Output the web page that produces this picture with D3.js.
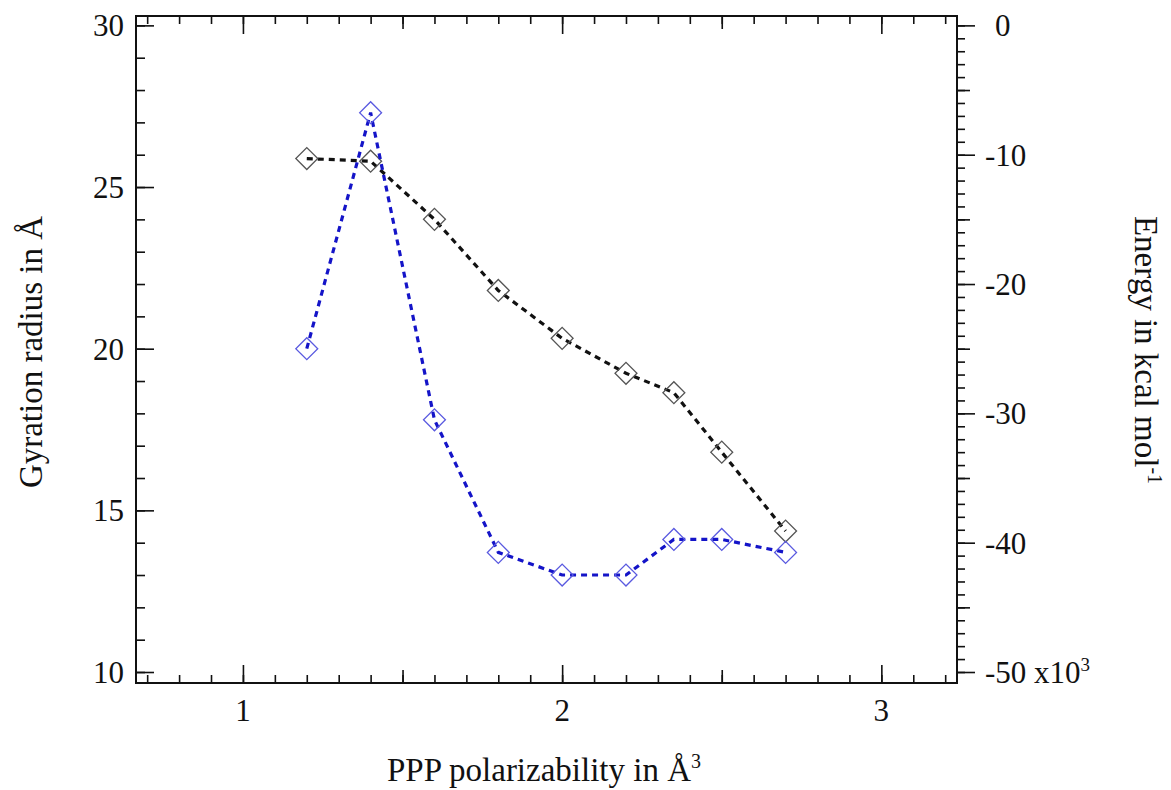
<!DOCTYPE html>
<html>
<head>
<meta charset="utf-8">
<script src="https://cdn.jsdelivr.net/npm/d3@7"></script>
<style>
  body{margin:0;background:#fff;}
  svg{display:block;}
  svg text{font-family:'Liberation Serif','Times New Roman',Times,'DejaVu Serif',serif;fill:#111;}
  .tick line{stroke:#111;stroke-width:1.6;}
</style>
</head>
<body>
<svg id="chart" width="1171" height="790"></svg>
<script>
// data ----------------------------------
var polarizability=[1.2,1.4,1.6,1.8,2.0,2.2,2.35,2.5,2.7];
var gyration=[20.0,27.3,17.8,13.7,13.0,13.0,14.1,14.1,13.7];      // left axis, blue
var energy=[-10.3,-10.5,-15.0,-20.5,-24.2,-26.9,-28.4,-33.0,-39.1]; // right axis (x10^3), black

var xTicks=[1,2,3];
var leftTicks=[10,15,20,25,30];
var rightTicks=[0,-10,-20,-30,-40,-50];

// frame
var fx0=136,fx1=957,fy0=16,fy1=683;
var serif="'Liberation Serif','Times New Roman',Times,serif";

var svg=d3.select('#chart');

var x=d3.scaleLinear().domain([0.665,3.237]).range([fx0,fx1]);
var yL=d3.scaleLinear().domain([9.66,30.29]).range([fy1,fy0]);
var yR=d3.scaleLinear().domain([-50.85,0.725]).range([fy1,fy0]);

// ticks ---------------------------------
function tickAxis(axis,vals,size,tx,ty){
  svg.append('g')
    .attr('transform','translate('+tx+','+ty+')')
    .call(axis.tickValues(vals).tickSize(size).tickFormat(''))
    .call(g=>g.select('.domain').remove());
}
var xMinor=d3.range(7,33).map(d=>d/10);
var xMid=[1.5,2.5];
tickAxis(d3.axisTop(x),xMinor,8,0,fy1);
tickAxis(d3.axisTop(x),xMid,13,0,fy1);
tickAxis(d3.axisTop(x),xTicks,18,0,fy1);
tickAxis(d3.axisBottom(x),xMinor,8,0,fy0);
tickAxis(d3.axisBottom(x),xMid,13,0,fy0);
tickAxis(d3.axisBottom(x),xTicks,18,0,fy0);

tickAxis(d3.axisRight(yL),d3.range(10,31),9,fx0,0);
tickAxis(d3.axisRight(yL),leftTicks,18,fx0,0);

tickAxis(d3.axisRight(yR),d3.range(-50,1),8,fx1,0);
tickAxis(d3.axisRight(yR),d3.range(-45,1,10),13,fx1,0);
tickAxis(d3.axisRight(yR),rightTicks,18,fx1,0);

svg.append('rect')
  .attr('x',fx0).attr('y',fy0)
  .attr('width',fx1-fx0).attr('height',fy1-fy0)
  .attr('fill','none').attr('stroke','#111').attr('stroke-width',2);

// tick labels
function label(sel,size){
  return sel.attr('font-family',serif).style('font-family',serif).style('font-size',size+'px');
}
label(svg.selectAll('.xlab').data(xTicks).enter().append('text'),31)
  .attr('x',d=>x(d)).attr('y',fy1+38)
  .attr('text-anchor','middle')
  .text(d=>d);
label(svg.selectAll('.llab').data(leftTicks).enter().append('text'),31)
  .attr('x',fx0-12).attr('y',d=>yL(d)+11)
  .attr('text-anchor','end')
  .text(d=>d);
var rl=label(svg.selectAll('.rlab').data(rightTicks).enter().append('text'),31)
  .attr('x',d=>d==0?fx1+28+10:fx1+28).attr('y',d=>yR(d)+11)
  .text(d=>d==0?'0':'-'+Math.abs(d));
rl.filter(d=>d==-50).append('tspan').text(' x10');
rl.filter(d=>d==-50).append('tspan').attr('dy',-12).style('font-size','19px').text('3');

// axis titles
var xt=label(svg.append('text'),33).attr('x',544).attr('y',781).attr('text-anchor','middle');
xt.append('tspan').text('PPP polarizability in Å');
xt.append('tspan').attr('dy',-13).style('font-size','20px').text('3');

label(svg.append('text'),33)
  .attr('transform','translate(42,352) rotate(-90)')
  .attr('text-anchor','middle')
  .text('Gyration radius in Å');

var rt=label(svg.append('text'),33)
  .attr('transform','translate(1135,350) rotate(90)')
  .attr('text-anchor','middle');
rt.append('tspan').text('Energy in kcal mol');
rt.append('tspan').attr('dy',-13).style('font-size','20px').text('-1');

// series --------------------------------
function series(vals,y,lineCol,markCol){
  var pts=polarizability.map((d,i)=>[x(d),y(vals[i])]);
  svg.append('path')
    .attr('d',d3.line()(pts))
    .attr('fill','none').attr('stroke',lineCol)
    .attr('stroke-width',3.2).attr('stroke-dasharray','6,5');
  svg.append('g').selectAll('path').data(pts).enter().append('path')
    .attr('d',d3.symbol().type(d3.symbolSquare).size(240))
    .attr('transform',d=>'translate('+d[0]+','+d[1]+') rotate(45)')
    .attr('fill','none').attr('stroke',markCol).attr('stroke-width',1.3);
}
series(energy,yR,'#111','#555');
series(gyration,yL,'#1414c8','#5a5ae0');
</script>
</body>
</html>
